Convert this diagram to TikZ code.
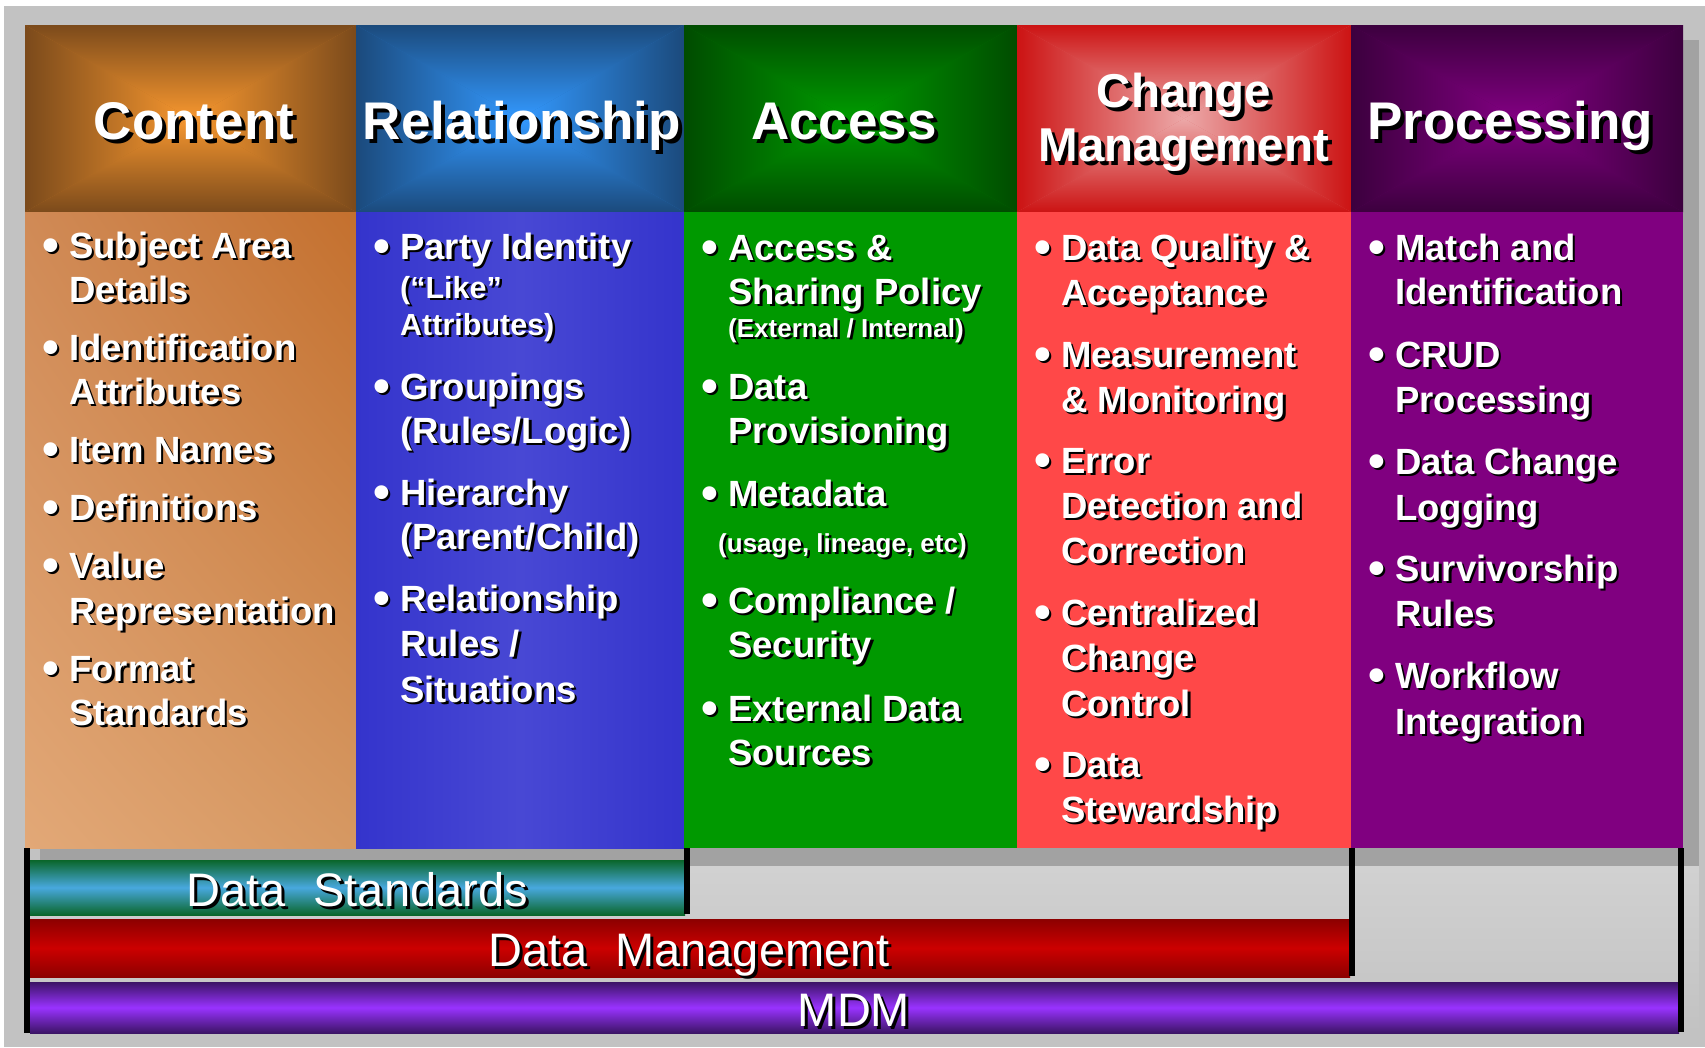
\documentclass[tikz,border=0pt]{standalone}
\usepackage{fontspec}
\setmainfont{Liberation Sans}
\usetikzlibrary{shadings}

\definecolor{bggray}{HTML}{C2C2C2}
\definecolor{shadowgray}{HTML}{A2A2A2}
\definecolor{cntdark}{HTML}{7B4A1B}
\definecolor{cntlight}{HTML}{F7972F}
\definecolor{reldark}{HTML}{1B4A7C}
\definecolor{rellight}{HTML}{3399FF}
\definecolor{accdark}{HTML}{004C00}
\definecolor{acclight}{HTML}{009C00}
\definecolor{chgdark}{HTML}{CC1313}
\definecolor{chglight}{HTML}{ECA8A8}
\definecolor{prodark}{HTML}{3C003E}
\definecolor{prolight}{HTML}{820082}
\definecolor{cntul}{HTML}{D08A56}
\definecolor{cntur}{HTML}{C4702E}
\definecolor{cntll}{HTML}{E2A877}
\definecolor{cntlr}{HTML}{D69862}
\definecolor{relbody}{HTML}{3434CC}
\definecolor{relbodymid}{HTML}{4848D4}
\definecolor{accbody}{HTML}{009900}
\definecolor{chgbody}{HTML}{FF4848}
\definecolor{probody}{HTML}{800080}
\definecolor{stdedge}{HTML}{0A662A}
\definecolor{stdmid}{HTML}{48A8DE}
\definecolor{mgmtedge}{HTML}{8C0000}
\definecolor{mgmtmid}{HTML}{CC0000}
\definecolor{mdmedge}{HTML}{3C1466}
\definecolor{mdmmid}{HTML}{9933FF}

\newcommand{\smalltxt}{\fontsize{26}{30}\selectfont}
\newcommand{\midtxt}{\fontsize{30.5}{36}\selectfont}

% white text with a black drop shadow
\newcommand{\shadowtext}[5][2.5]{%
  \node[#3, text=black, xshift=#1pt, yshift=-#1pt] (#2-s) at (#4) {#5};
  \node[#3] (#2) at (#4) {#5};
}

% header box: edge colour at the rim, centre colour in the middle
\newcommand{\headbox}[4]{%
  \fill[#3!50!#4] (#1,25) rectangle (#2,212);
  \shade[top color=#3, bottom color=#4] (#1,25) -- (#2,25) -- ({(#1+#2)/2},118.5) -- cycle;
  \shade[top color=#4, bottom color=#3] (#1,212) -- (#2,212) -- ({(#1+#2)/2},118.5) -- cycle;
  \shade[left color=#3, right color=#4] (#1,25) -- (#1,212) -- ({(#1+#2)/2},118.5) -- cycle;
  \shade[left color=#4, right color=#3] (#2,25) -- (#2,212) -- ({(#1+#2)/2},118.5) -- cycle;
}

\begin{document}
\begin{tikzpicture}[x=1pt, y=-1pt]

  \tikzstyle{headtext} = [text=white, inner sep=0pt, anchor=base, font=\bfseries\fontsize{53}{60}\selectfont]
  \tikzstyle{chgtext}  = [headtext, font=\bfseries\fontsize{47.5}{54}\selectfont]
  \tikzstyle{item}     = [text=white, inner sep=0pt, anchor=base west, font=\bfseries\fontsize{36.5}{45}\selectfont]
  \tikzstyle{dot}      = [item, font=\bfseries\fontsize{48}{50}\selectfont, yshift=-3pt]
  \tikzstyle{bartext}  = [text=white, inner sep=0pt, anchor=base, font=\fontsize{47}{50}\selectfont]
  \tikzstyle{bracket}  = [line width=6pt, black]

  \useasboundingbox (0,0) rectangle (1705,1047);
  \fill[white] (0,0) rectangle (1705,1047);
  \fill[bggray] (4,6) rectangle (1705,1047);
  \shade[top color=black!18, bottom color=bggray] (30,866) rectangle (1699,1033);
  \fill[shadowgray] (40,40) rectangle (1699,866);

  \headbox{25}{356}{cntdark}{cntlight}
  \headbox{356}{684}{reldark}{rellight}
  \headbox{684}{1017}{accdark}{acclight}
  \headbox{1017}{1351}{chgdark}{chglight}
  \headbox{1351}{1683}{prodark}{prolight}

  \shade[upper left=cntul, upper right=cntur, lower left=cntll, lower right=cntlr] (25,212) rectangle (356,848);
  \shade[left color=relbody, right color=relbody, middle color=relbodymid] (356,212) rectangle (684,848);
  \fill[accbody] (684,212) rectangle (1017,848);
  \fill[chgbody] (1017,212) rectangle (1351,848);
  \fill[probody] (1351,212) rectangle (1683,848);

  \shadowtext[4]{content}{headtext}{194,139}{Content}
  \shadowtext[4]{relationship}{headtext}{522,139}{Relationship}
  \shadowtext[4]{access}{headtext}{844,139}{Access}
  \shadowtext[4]{change}{chgtext}{1184,107}{Change}
  \shadowtext[4]{management}{chgtext}{1184,161}{Management}
  \shadowtext[4]{processing}{headtext}{1510,139}{Processing}

  \foreach \txt/\yy/\bl [count=\k] in {Subject Area/258/1, Details/302/0, Identification/360/1, Attributes/404/0, Item Names/462/1, Definitions/520/1, Value/578/1, Representation/623/0, Format/681/1, Standards/725/0}{
    \ifnum\bl=1 \shadowtext{content-dot\k}{dot}{42,\yy}{•}\fi
    \shadowtext{content-\k}{item}{69,\yy}{\txt}
  }
  \foreach \txt/\yy/\bl [count=\k] in {Party Identity/259/1, {\midtxt(“Like”}/298/0, {\midtxt Attributes)}/335/0, Groupings/399/1, {(Rules/Logic)}/443/0, Hierarchy/505/1, {(Parent/Child)}/549/0, Relationship/611/1, {Rules /}/656/0, Situations/702/0}{
    \ifnum\bl=1 \shadowtext{relation-dot\k}{dot}{373,\yy}{•}\fi
    \shadowtext{relation-\k}{item}{400,\yy}{\txt}
  }
  \foreach \txt/\yy/\bl [count=\k] in {Access \&/260/1, Sharing Policy/304/0, {\smalltxt(External / Internal)}/337/0, Data/399/1, Provisioning/443/0, Metadata/506/1, {\smalltxt\hspace*{-10pt}(usage, lineage, etc)}/552/0, {Compliance /}/613/1, Security/657/0, External Data/721/1, Sources/765/0}{
    \ifnum\bl=1 \shadowtext{access-dot\k}{dot}{701,\yy}{•}\fi
    \shadowtext{access-\k}{item}{728,\yy}{\txt}
  }
  \foreach \txt/\yy/\bl [count=\k] in {Data Quality \&/260/1, Acceptance/305/0, Measurement/367/1, \& Monitoring/412/0, Error/473/1, Detection and/518/0, Correction/563/0, Centralized/625/1, Change/670/0, Control/716/0, Data/777/1, Stewardship/822/0}{
    \ifnum\bl=1 \shadowtext{change-dot\k}{dot}{1034,\yy}{•}\fi
    \shadowtext{change-\k}{item}{1061,\yy}{\txt}
  }
  \foreach \txt/\yy/\bl [count=\k] in {Match and/260/1, Identification/304/0, CRUD/367/1, Processing/412/0, Data Change/474/1, Logging/520/0, Survivorship/581/1, Rules/626/0, Workflow/688/1, Integration/734/0}{
    \ifnum\bl=1 \shadowtext{proc-dot\k}{dot}{1368,\yy}{•}\fi
    \shadowtext{proc-\k}{item}{1395,\yy}{\txt}
  }

  \shade[top color=stdedge, bottom color=stdedge, middle color=stdmid] (30,860) rectangle (685,915);
  \shade[top color=mgmtedge, bottom color=mgmtedge, middle color=mgmtmid] (30,919) rectangle (1350,977);
  \shade[top color=mdmedge, bottom color=mdmedge, middle color=mdmmid] (30,982) rectangle (1679,1033);

  \shadowtext[3]{standards}{bartext}{357,906}{Data\hspace{28pt}Standards}
  \shadowtext[3]{datamgmt}{bartext}{689,966}{Data\hspace{28pt}Management}
  \shadowtext[3]{mdm}{bartext}{854,1026}{MDM}

  \draw[bracket] (27,848) -- (27,1033);
  \draw[bracket] (687,848) -- (687,914);
  \draw[bracket] (1352,848) -- (1352,976);
  \draw[bracket] (1681,848) -- (1681,1032);

\end{tikzpicture}
\end{document}
